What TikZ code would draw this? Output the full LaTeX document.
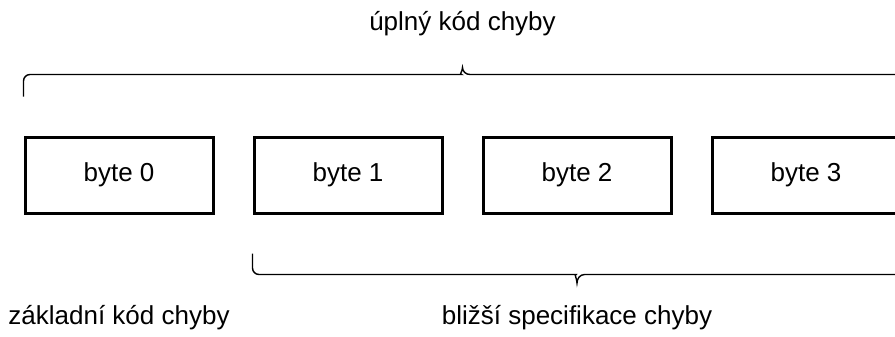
\documentclass[tikz,border=0pt]{standalone}
\usepackage{fontspec}
\setmainfont{Liberation Sans}
\usepackage{tikz}
\usetikzlibrary{positioning, calc}

\begin{document}
\begin{tikzpicture}[font=\fontsize{14.8}{17}\selectfont]
\tikzset{bytebox/.style={draw, rectangle, line width=0.06cm, minimum width=3.76cm, minimum height=1.52cm, inner sep=0pt},
         brace/.style={line width=0.8pt, rounded corners=0.13cm}}
\useasboundingbox (0,0) rectangle (17.9,-6.72);

% the four bytes of the code
\node (b0) [bytebox] at (2.38,-3.5) {byte 0};
\node (b1) [bytebox, right=0.76cm of b0] {byte 1};
\node (b2) [bytebox, right=0.76cm of b1] {byte 2};
\node (b3) [bytebox, right=0.76cm of b2] {byte 3};

% brace over all bytes
\coordinate (tl) at ([yshift=1.22cm]b0.north west);
\coordinate (tr) at ([yshift=1.22cm]b3.north east);
\coordinate (tm) at ($(tl)!0.5!(tr)$);
\draw[brace] ([yshift=0.78cm]b0.north west) |- ([xshift=-0.15cm]tm)
  [sharp corners] to[out=0,in=-90] ([yshift=0.14cm]tm) to[out=-90,in=180] ([xshift=0.15cm]tm)
  [rounded corners=0.13cm] -| ([yshift=0.78cm]b3.north east);

% brace under bytes 1 to 3
\coordinate (bl) at ([yshift=-1.2cm]b1.south west);
\coordinate (br) at ([yshift=-1.2cm]b3.south east);
\coordinate (bm) at ($(bl)!0.5!(br)$);
\draw[brace] ([yshift=-0.78cm]b1.south west) |- ([xshift=-0.15cm]bm)
  [sharp corners] to[out=0,in=90] ([yshift=-0.17cm]bm) to[out=90,in=180] ([xshift=0.15cm]bm)
  [rounded corners=0.13cm] -| ([yshift=-0.78cm]b3.south east);

% labels
\node (full) [anchor=base] at ([yshift=0.88cm]tm) {úplný kód chyby};
\node (basic) [anchor=base] at ($(b0.south)+(0,-2.2)$) {základní kód chyby};
\node (spec) [anchor=base] at ([yshift=-1.0cm]bm) {bližší specifikace chyby};
\end{tikzpicture}
\end{document}
